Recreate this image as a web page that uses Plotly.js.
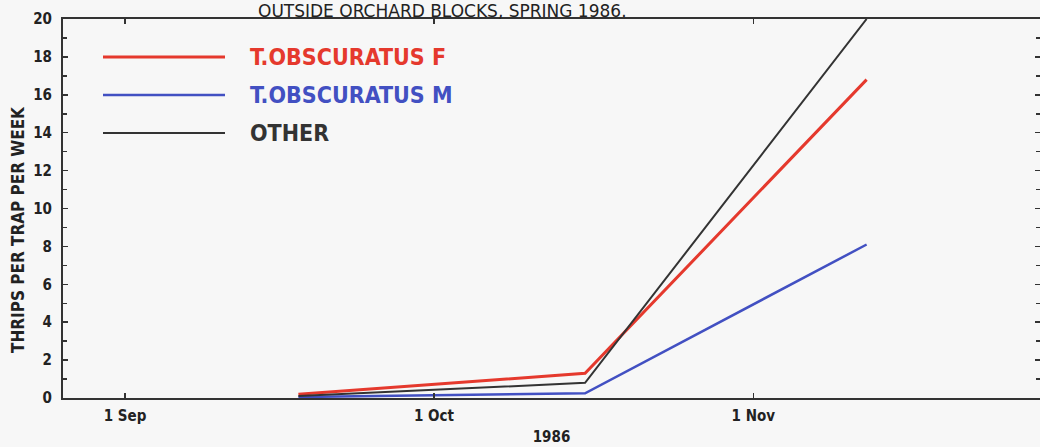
<!DOCTYPE html>
<html><head><meta charset="utf-8">
<script src="https://cdn.plot.ly/plotly-3.0.1.min.js"></script>
<style>html,body{margin:0;padding:0;background:#f7f7f7;}</style>
</head><body><div id="chart" style="width:1040px;height:447px;"></div>
<script>
const dates = ["1986-09-17 20:00", "1986-10-15 16:00", "1986-11-12 00:00"];
const femaleF = [0.2, 1.3, 16.8];
const maleM = [0.05, 0.25, 8.1];
const other = [0.1, 0.8, 20.0];
const seriesNames = ["T.OBSCURATUS F", "T.OBSCURATUS M", "OTHER"];
const seriesColors = ["#e5392d", "#4250c2", "#333333"];
const seriesWidths = [3, 2.5, 2];
const tickDates = ["1986-09-01", "1986-10-01", "1986-11-01"];
const tickText = ["1 Sep", "1 Oct", "1 Nov"];
const yTicks = [0,2,4,6,8,10,12,14,16,18,20];
const titleText = "OUTSIDE ORCHARD BLOCKS, SPRING 1986.";
const xTitle = "1986";
const yTitle = "THRIPS PER TRAP PER WEEK";

const seriesValues = [femaleF, maleM, other];
const font = "'DejaVu Sans Condensed', 'Liberation Sans', Arial, sans-serif";

const traces = seriesValues.map((v, i) => ({
  x: dates, y: v, type: 'scatter', mode: 'lines', name: seriesNames[i],
  line: {color: seriesColors[i], width: seriesWidths[i]}, showlegend: false,
  cliponaxis: true
}));

// manual legend (paper coords)
const shapes = [];
const annotations = [];
const legY = [57, 95, 133];
const toPy = py => (398 - py) / 379;
const toPx = px => (px - 63) / 977;
seriesNames.forEach((n, i) => {
  shapes.push({type: 'line', xref: 'paper', yref: 'paper',
    x0: toPx(103), x1: toPx(225), y0: toPy(legY[i]), y1: toPy(legY[i]),
    line: {color: seriesColors[i], width: seriesWidths[i]}});
  annotations.push({xref: 'paper', yref: 'paper', x: toPx(248), y: toPy(legY[i]),
    xanchor: 'left', yanchor: 'middle', text: '<b>' + n + '</b>', showarrow: false,
    font: {family: font, size: 23, color: seriesColors[i]}});
});
annotations.push({xref: 'paper', yref: 'paper', x: toPx(442), y: toPy(11),
  xanchor: 'center', yanchor: 'middle', text: titleText, showarrow: false, borderpad: 0,
  font: {family: "'DejaVu Sans', sans-serif", size: 17, color: '#222'}});
annotations.push({xref: 'paper', yref: 'paper', x: toPx(18), y: toPy(230),
  xanchor: 'center', yanchor: 'middle', textangle: -90, text: '<b>' + yTitle + '</b>', showarrow: false,
  font: {family: font, size: 17, color: '#222'}});

const layout = {
  width: 1040, height: 447,
  margin: {l: 63, r: 0, t: 19, b: 49},
  paper_bgcolor: '#f7f7f7', plot_bgcolor: '#f7f7f7',
  showlegend: false,
  xaxis: {
    type: 'date', range: ["1986-08-25 23:30", "1986-11-28 20:00"],
    tickmode: 'array', tickvals: tickDates, ticktext: tickText.map(t => '<b>' + t + '</b>'),
    ticks: 'inside', ticklen: 5, tickwidth: 1.5, tickcolor: '#333',
    showline: true, linecolor: '#333', linewidth: 2, mirror: 'ticks',
    showgrid: false, zeroline: false, ticklabelstandoff: 3,
    tickfont: {family: font, size: 15, color: '#222'},
    title: {text: '<b>' + xTitle + '</b>', font: {family: font, size: 15, color: '#222'}, standoff: 7}
  },
  yaxis: {
    range: [0, 20], tickmode: 'array', tickvals: yTicks, ticktext: yTicks.map(t => '<b>' + t + '</b>'),
    ticks: 'inside', ticklen: 5, tickwidth: 1.5, tickcolor: '#333',
    minor: {dtick: 1, ticks: 'inside', ticklen: 4, tickcolor: '#333', showgrid: false},
    showline: true, linecolor: '#333', linewidth: 2, mirror: 'ticks',
    showgrid: false, zeroline: false, ticklabelstandoff: 6,
    tickfont: {family: font, size: 15, color: '#222'}
  },
  shapes: shapes, annotations: annotations
};
Plotly.newPlot('chart', traces, layout, {staticPlot: true});
</script></body></html>
